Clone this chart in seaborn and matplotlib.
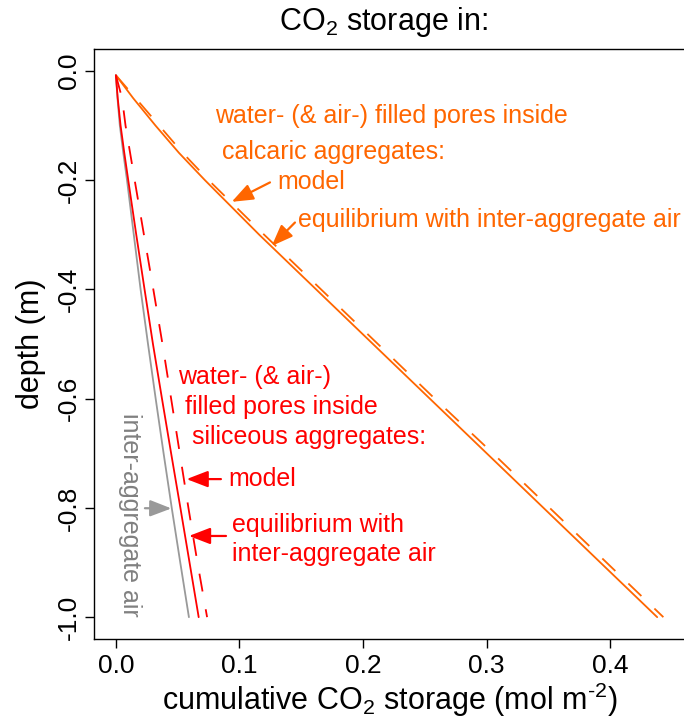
import numpy as np
import pandas as pd
import matplotlib
matplotlib.use("Agg")
import matplotlib.pyplot as plt
import seaborn as sns

# ---------------- data ----------------
depth = [-0.008, -0.05, -0.1, -0.15, -0.2, -0.3, -0.4, -0.5, -0.6, -0.7, -0.8, -0.9, -1.0]
calc_model = [0.0, 0.014, 0.032, 0.051, 0.072, 0.116, 0.162, 0.208, 0.254, 0.300, 0.346, 0.392, 0.438]
calc_equil = [0.0, 0.016, 0.035, 0.054, 0.075, 0.120, 0.166, 0.212, 0.258, 0.305, 0.351, 0.397, 0.443]
sil_model = [0.0, 0.0015, 0.0038, 0.0068, 0.0100, 0.0165, 0.0232, 0.0300, 0.0373, 0.0447, 0.0522, 0.0596, 0.0670]
sil_equil = [0.0, 0.0050, 0.0078, 0.0115, 0.0152, 0.0227, 0.0303, 0.0377, 0.0447, 0.0517, 0.0587, 0.0660, 0.0738]
inter_air = [0.0, 0.0013, 0.0032, 0.0060, 0.0090, 0.0145, 0.0200, 0.0260, 0.0322, 0.0386, 0.0452, 0.0521, 0.0591]

yticks = [0.0, -0.2, -0.4, -0.6, -0.8, -1.0]
ytick_labels = ["0.0", "-0.2", "-0.4", "-0.6", "-0.8", "-1.0"]
xticks = [0.0, 0.1, 0.2, 0.3, 0.4]
xtick_labels = ["0.0", "0.1", "0.2", "0.3", "0.4"]

ORANGE = "#ff6600"
RED = "#ff0000"
GRAY = "#999999"
GRAYTXT = "#808080"

sns.set_theme(style="white")
plt.rcParams["font.family"] = ["Liberation Sans", "DejaVu Sans"]
plt.rcParams["mathtext.fontset"] = "custom"
plt.rcParams["mathtext.rm"] = "Liberation Sans"
plt.rcParams["mathtext.it"] = "Liberation Sans"
for k in ["text.color", "axes.labelcolor", "xtick.color", "ytick.color", "axes.edgecolor"]:
    plt.rcParams[k] = "black"

fig = plt.figure(figsize=(6.84, 7.25), dpi=100)
ax = fig.add_axes([94 / 684, 86 / 725, 591 / 684, 590 / 725])

LW = 1.3
DASH = (0, (10, 10))

def draw(xs, style, color):
    df = pd.DataFrame({"x": xs, "y": depth})
    sns.lineplot(data=df, x="x", y="y", ax=ax, sort=False, estimator=None,
                 color=color, lw=LW, linestyle=style)

draw(calc_model, "-", ORANGE)
draw(calc_equil, DASH, ORANGE)
draw(inter_air, "-", GRAY)
draw(sil_model, "-", RED)
draw(sil_equil, DASH, RED)

ax.set_xlim(-0.0177, 0.4605)
ax.set_ylim(-1.04, 0.04)
ax.set_xticks(xticks)
ax.set_xticklabels(xtick_labels)
ax.set_yticks(yticks)
ax.set_yticklabels(ytick_labels, rotation=90, va="center")
ax.tick_params(axis="both", direction="out", length=6.5, width=1, color="black",
               labelsize=19, labelcolor="black", bottom=True, left=True)
ax.tick_params(axis="x", pad=4)
ax.tick_params(axis="y", pad=3)
for s in ax.spines.values():
    s.set_color("black")
    s.set_linewidth(1.0)

ax.set_xlabel(r"cumulative CO$_2$ storage (mol m$^{\text{-}2}$)", fontsize=22, labelpad=2, color="black")
ax.set_ylabel("depth (m)", fontsize=22, labelpad=8, color="black")
fig.text(383 / 684, 1 - 22 / 725, r"CO$_2$ storage in:", fontsize=22, ha="center", va="center", color="black")

TFS = 18

def txt(x, y, s, color, **kw):
    ax.text(x, y, s, color=color, fontsize=TFS, ha="left", va="center", **kw)

def arrow(tail, tip, color):
    ax.annotate("", xy=tip, xytext=tail,
                arrowprops=dict(arrowstyle="-|>,head_length=0.65,head_width=0.25",
                                color=color, lw=1.6, mutation_scale=20,
                                shrinkA=0, shrinkB=0))

# orange annotations
txt(0.0802, -0.0826, "water- (& air-) filled pores inside", ORANGE)
txt(0.0858, -0.1486, "calcaric aggregates:", ORANGE)
txt(0.1304, -0.2037, "model", ORANGE)
txt(0.1474, -0.2734, "equilibrium with inter-aggregate air", ORANGE)
arrow((0.1247, -0.2042), (0.0937, -0.2398), ORANGE)
arrow((0.1449, -0.2776), (0.1261, -0.3206), ORANGE)

# red annotations
txt(0.0502, -0.5596, "water- (& air-)", RED)
txt(0.0559, -0.6147, "filled pores inside", RED)
txt(0.0615, -0.6697, "siliceous aggregates:", RED)
txt(0.0907, -0.7468, "model", RED)
txt(0.0939, -0.8312, "equilibrium with", RED)
txt(0.0939, -0.8844, "inter-aggregate air", RED)
arrow((0.0850, -0.7473), (0.0572, -0.7473), RED)
arrow((0.0891, -0.8514), (0.0591, -0.8514), RED)

# gray annotation
ax.text(0.0113, -0.8128, "inter-aggregate air", color=GRAYTXT, fontsize=TFS,
        rotation=270, ha="center", va="center")
arrow((0.0235, -0.8006), (0.0449, -0.8010), GRAY)

fig.savefig("out.png", dpi=100)
